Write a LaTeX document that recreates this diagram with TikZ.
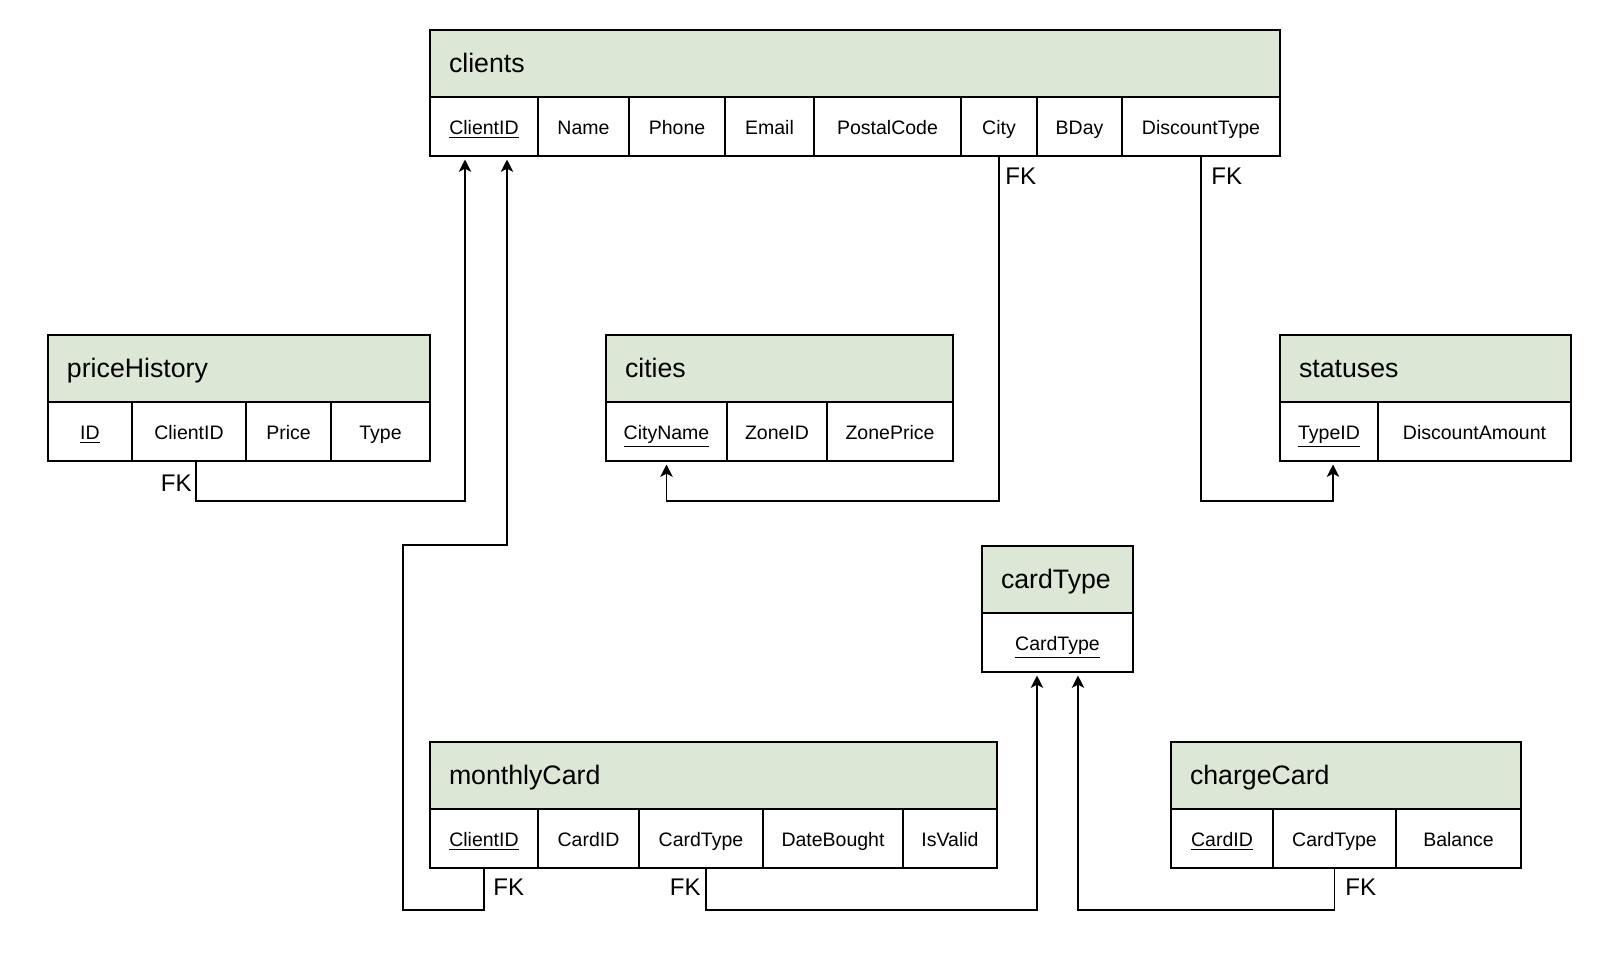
\documentclass[tikz,border=0pt]{standalone}
\usepackage{fontspec}
\setmainfont{Liberation Sans}
\usepackage{xcolor}
\usepackage{tikz}
\usetikzlibrary{positioning,arrows.meta,calc}

\definecolor{hdrgreen}{HTML}{DCE8D5}

\tikzset{
  tbl/.style={draw, line width=1.1pt, inner sep=0pt, outer sep=0pt, anchor=north west},
  hdr/.style={tbl, fill=hdrgreen, minimum height=1.34cm, inner xsep=0.38cm, align=left,
    text height=1.06em, text depth=0em, font=\fontsize{15.2}{18}\selectfont},
  fld/.style={tbl, fill=white, minimum height=1.18cm,
    text height=0.94em, text depth=0em, font=\fontsize{11.1}{13}\selectfont},
  fk/.style={inner sep=0pt, font=\fontsize{13.7}{16}\selectfont},
  ref/.style={line width=1.1pt, shorten >=2pt, -{Stealth[length=7pt, width=7pt, inset=1.8pt]}},
}

\begin{document}
\begin{tikzpicture}[x=0.02cm, y=-0.02cm]
  \useasboundingbox (0,0) rectangle (1610,954);

  % clients
  \node[hdr, text width=16.24cm] (clients) at (430,30) {clients};
  \foreach \nm/\xa/\xb/\txt in {cl-id/430/538/\underline{ClientID}, cl-name/538/629/Name,
      cl-phone/629/725/Phone, cl-mail/725/814/Email, cl-post/814/961/PostalCode,
      cl-city/961/1037/City, cl-bday/1037/1122/BDay, cl-disc/1122/1280/DiscountType}
    \node[fld, minimum width={(\xb-\xa)*0.02cm}] (\nm) at (\xa,97) {\txt};

  % priceHistory
  \node[hdr, text width=6.88cm] (priceHistory) at (48,335) {priceHistory};
  \foreach \nm/\xa/\xb/\txt in {ph-id/48/132/\underline{ID}, ph-cid/132/246/ClientID,
      ph-price/246/331/Price, ph-type/331/430/Type}
    \node[fld, minimum width={(\xb-\xa)*0.02cm}] (\nm) at (\xa,402) {\txt};

  % cities
  \node[hdr, text width=6.18cm] (cities) at (606,335) {cities};
  \foreach \nm/\xa/\xb/\txt in {ci-name/606/727/\underline{CityName}, ci-zone/727/827/ZoneID,
      ci-price/827/953/ZonePrice}
    \node[fld, minimum width={(\xb-\xa)*0.02cm}] (\nm) at (\xa,402) {\txt};

  % statuses
  \node[hdr, text width=5.06cm] (statuses) at (1280,335) {statuses};
  \foreach \nm/\xa/\xb/\txt in {st-id/1280/1378/\underline{TypeID}, st-amount/1378/1571/DiscountAmount}
    \node[fld, minimum width={(\xb-\xa)*0.02cm}] (\nm) at (\xa,402) {\txt};

  % cardType
  \node[hdr, text width=2.26cm] (cardType) at (982,546) {cardType};
  \node[fld, minimum width=3.02cm] (ct-id) at (982,613) {\underline{CardType}};

  % monthlyCard
  \node[hdr, text width=10.58cm] (monthlyCard) at (430,742) {monthlyCard};
  \foreach \nm/\xa/\xb/\txt in {mc-cid/430/538/\underline{ClientID}, mc-card/538/639/CardID,
      mc-ctype/639/763/CardType, mc-date/763/903/DateBought, mc-valid/903/997/IsValid}
    \node[fld, minimum width={(\xb-\xa)*0.02cm}] (\nm) at (\xa,809) {\txt};

  % chargeCard
  \node[hdr, text width=6.24cm] (chargeCard) at (1171,742) {chargeCard};
  \foreach \nm/\xa/\xb/\txt in {cc-id/1171/1273/\underline{CardID}, cc-ctype/1273/1396/CardType,
      cc-bal/1396/1521/Balance}
    \node[fld, minimum width={(\xb-\xa)*0.02cm}] (\nm) at (\xa,809) {\txt};

  % connector ends
  \coordinate (railA) at (0,501);
  \coordinate (railB) at (0,910);
  \coordinate (mc-turn) at (403,545);
  \coordinate (cl-in1) at ([xshift=-0.38cm]cl-id.south);
  \coordinate (cl-in2) at ([xshift=0.46cm]cl-id.south);
  \coordinate (ct-in1) at ([xshift=-0.41cm]ct-id.south);
  \coordinate (ct-in2) at ([xshift=0.41cm]ct-id.south);
  \coordinate (st-in) at ([xshift=0.08cm]st-id.south);
  \coordinate (ph-out) at ([xshift=0.14cm]ph-cid.south);
  \coordinate (mc-out) at ([xshift=0.1cm]mc-ctype.south);

  % foreign keys
  \draw[ref] (ph-out) |- (cl-in1 |- railA) -- (cl-in1);
  \draw[ref] (mc-cid.south) |- (mc-turn |- railB) -- (mc-turn) -| (cl-in2);
  \draw[ref] (cl-city.south) |- (ci-name.south |- railA) -- (ci-name.south);
  \draw[ref] (cl-disc.south) |- (st-in |- railA) -- (st-in);
  \draw[ref] (mc-out) |- (ct-in1 |- railB) -- (ct-in1);
  \draw[ref] (cc-ctype.south) |- (ct-in2 |- railB) -- (ct-in2);

  \node[fk, anchor=east] (fk-ph) at (192,483) {FK};
  \node[fk, anchor=west] (fk-city) at (1005,176) {FK};
  \node[fk, anchor=west] (fk-disc) at (1211,176) {FK};
  \node[fk, anchor=west] (fk-mc1) at (493,887) {FK};
  \node[fk, anchor=east] (fk-mc2) at (701,887) {FK};
  \node[fk, anchor=west] (fk-cc) at (1345,887) {FK};
\end{tikzpicture}
\end{document}
